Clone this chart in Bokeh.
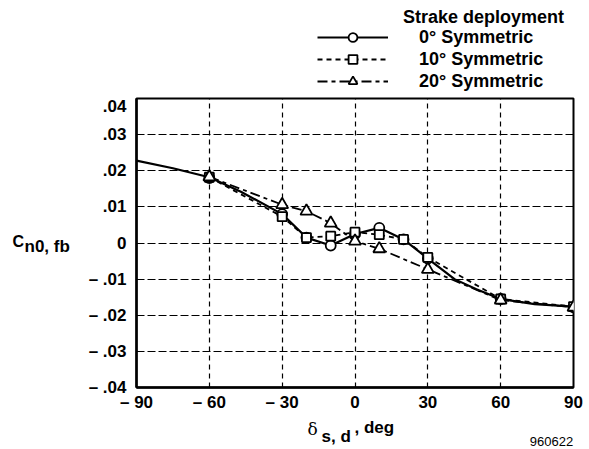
from bokeh.plotting import figure
from bokeh.layouts import column, row
from bokeh.models import Range1d, FixedTicker, Legend, LegendItem, Label
from bokeh.embed import file_html
from bokeh.resources import INLINE

# ---- data ----
x_ticks = [-90, -60, -30, 0, 30, 60, 90]
x_tick_labels = ["\u2013 90", "\u2013 60", "\u2013 30", "0", "30", "60", "90"]
y_ticks = [-0.04, -0.03, -0.02, -0.01, 0.0, 0.01, 0.02, 0.03, 0.04]
y_tick_labels = ["\u2013 .04", "\u2013 .03", "\u2013 .02", "\u2013 .01", "0", ".01", ".02", ".03", ".04"]

# 0 deg symmetric (circles)
sym0_x = [-60, -30, -20, -10, 0, 10, 20, 30, 60, 90]
sym0_y = [0.018, 0.008, 0.0015, -0.0007, 0.0025, 0.0042, 0.001, -0.0043, -0.0155, -0.0178]
# faired curve through the 0 deg data
fair_x = [-90, -75, -60, -47, -30, -20, -10, 0, 10, 20, 30, 41, 50, 60, 74, 90]
fair_y = [0.0228, 0.0207, 0.0182, 0.0142, 0.008, 0.0015, -0.0007, 0.0025, 0.0042, 0.001,
          -0.0043, -0.010, -0.0128, -0.0155, -0.0169, -0.0176]
# 10 deg symmetric (squares)
sym10_x = [-60, -30, -20, -10, 0, 10, 20, 30, 60, 90]
sym10_y = [0.0182, 0.0073, 0.0015, 0.0019, 0.003, 0.0023, 0.001, -0.004, -0.0155, -0.0176]
# 20 deg symmetric (triangles)
sym20_x = [-60, -30, -20, -10, 0, 10, 30, 60, 90]
sym20_y = [0.0183, 0.0106, 0.0088, 0.0055, 0.0005, -0.0016, -0.0073, -0.0158, -0.0178]

series_labels = ["0\u00b0 Symmetric", "10\u00b0 Symmetric", "20\u00b0 Symmetric"]
legend_title = "Strake deployment"
y_label_main = "C"
y_label_sub = "n0, fb"
x_label_delta = "\u03b4"
x_label_sub = "s, d"
x_label_unit = ", deg"
figure_id = "960622"

FONT = "Liberation Sans"
NAN = float("nan")

# styles for the three series
STY = [
    dict(line=dict(line_width=2.2), marker="circle", size=10),
    dict(line=dict(line_width=1.8, line_dash="5 4"), marker="square", size=9),
    dict(line=dict(line_width=1.8, line_dash="10 4 4 4"), marker="triangle", size=12),
]


def blank(w, h):
    f = figure(width=w, height=h, output_backend="svg", toolbar_location=None,
               x_range=Range1d(0, w), y_range=Range1d(h, 0),
               x_axis_type=None, y_axis_type=None, min_border=0)
    f.title.visible = False
    f.outline_line_color = None
    f.background_fill_color = "white"
    f.border_fill_color = "white"
    return f


def text(f, txt, x, y, size, align="left", baseline="alphabetic", style="bold", font=FONT):
    f.add_layout(Label(x=x, y=y, text=txt, text_font=font, text_font_style=style,
                       text_font_size=size, text_align=align, text_baseline=baseline,
                       text_color="black"))


# ---------------- main chart ----------------
p = figure(width=504, height=318, output_backend="svg", toolbar_location=None,
           x_range=Range1d(-90, 90), y_range=Range1d(-0.04, 0.04),
           min_border_left=50, min_border_right=16, min_border_top=2, min_border_bottom=27)
p.title.visible = False
p.background_fill_color = "white"
p.border_fill_color = "white"
p.outline_line_color = "black"
p.outline_line_width = 2
p.outline_line_alpha = 1

for ax, ticks, labels in ((p.xaxis[0], x_ticks, x_tick_labels), (p.yaxis[0], y_ticks, y_tick_labels)):
    ax.ticker = FixedTicker(ticks=ticks)
    ax.major_label_overrides = {t: l for t, l in zip(ticks, labels)}
    ax.major_tick_in = 0
    ax.major_tick_out = 0
    ax.minor_tick_line_color = None
    ax.axis_line_width = 2.5
    ax.axis_line_color = "black"
    ax.major_label_text_font = FONT
    ax.major_label_text_font_style = "bold"
    ax.major_label_text_font_size = "17px"
    ax.major_label_text_color = "black"
p.xaxis.major_label_standoff = 5
p.yaxis.major_label_standoff = 10

p.xgrid.ticker = FixedTicker(ticks=x_ticks[1:-1])
p.ygrid.ticker = FixedTicker(ticks=y_ticks[1:-1])
p.xgrid.grid_line_color = "black"
p.xgrid.grid_line_dash = "5 4"
p.xgrid.grid_line_width = 1.2
p.ygrid.grid_line_color = "black"
p.ygrid.grid_line_dash = "8 3"
p.ygrid.grid_line_width = 1.2

p.line(fair_x, fair_y, line_color="black", **STY[0]["line"])
p.line(sym10_x, sym10_y, line_color="black", **STY[1]["line"])
p.line(sym20_x, sym20_y, line_color="black", **STY[2]["line"])
for xs, ys, st in ((sym0_x, sym0_y, STY[0]), (sym10_x, sym10_y, STY[1]), (sym20_x, sym20_y, STY[2])):
    p.scatter(xs, ys, marker=st["marker"], size=st["size"], fill_color="white",
              line_color="black", line_width=1.8)

# ---------------- legend strip (above) ----------------
top = blank(589, 96)
items = []
for lab, st in zip(series_labels, STY):
    # invisible (NaN) stand-ins, used only to draw the legend samples
    rl = top.line(x=[NAN, NAN], y=[NAN, NAN], line_color="black", **st["line"])
    rs = top.scatter(x=[NAN], y=[NAN], marker=st["marker"], size=st["size"], fill_color="white",
                     line_color="black", line_width=1.8)
    items.append(LegendItem(label=lab, renderers=[rl, rs]))
legend = Legend(items=items, location=(317, 4), orientation="vertical")
legend.glyph_width = 71
legend.glyph_height = 22
legend.label_height = 20
legend.spacing = 0
legend.padding = 0
legend.margin = 0
legend.label_standoff = 31
legend.border_line_color = None
legend.background_fill_alpha = 0
legend.label_text_font = FONT
legend.label_text_font_style = "bold"
legend.label_text_font_size = "18px"
legend.label_text_color = "black"
top.add_layout(legend, "center")
text(top, legend_title, 483, 16, "18px", align="center", baseline="middle")

# ---------------- y label strip (left) ----------------
left = blank(85, 318)
text(left, y_label_main, 12, 157, "16px")
text(left, y_label_sub, 24, 163, "17px")

# ---------------- x label strip (below) ----------------
bottom = blank(589, 35)
text(bottom, x_label_delta, 307, 14, "17px", style="normal", font="DejaVu Serif")
text(bottom, x_label_sub, 321, 22, "17px")
text(bottom, x_label_unit, 354, 13, "17px")
text(bottom, figure_id, 551, 22, "13px", align="center", baseline="top", style="normal")

layout = column(top, row(left, p), bottom)
open("out.html", "w").write(file_html(layout, INLINE))
